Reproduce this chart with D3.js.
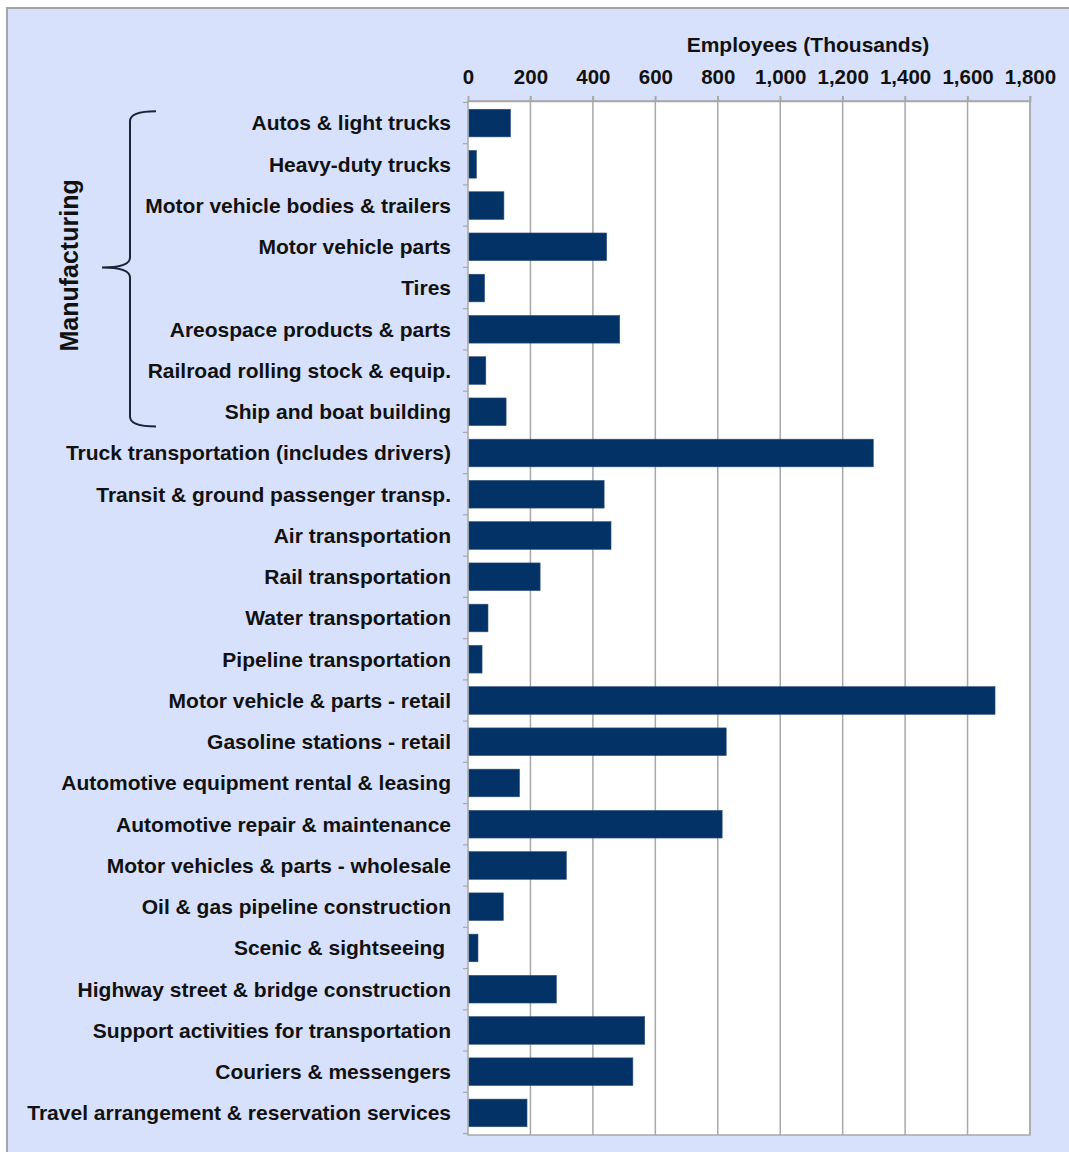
<!DOCTYPE html>
<html>
<head>
<meta charset="utf-8">
<script src="https://cdn.jsdelivr.net/npm/d3@7"></script>
<style>
  html, body { margin: 0; padding: 0; background: #ffffff; }
  svg { display: block; font-family: "Liberation Sans", Arial, sans-serif; }
</style>
</head>
<body>
<svg id="chart" width="1069" height="1152"></svg>
<script>
const categories = [
  "Autos & light trucks",
  "Heavy-duty trucks",
  "Motor vehicle bodies & trailers",
  "Motor vehicle parts",
  "Tires",
  "Areospace products & parts",
  "Railroad rolling stock & equip.",
  "Ship and boat building",
  "Truck transportation (includes drivers)",
  "Transit & ground passenger transp.",
  "Air transportation",
  "Rail transportation",
  "Water transportation",
  "Pipeline transportation",
  "Motor vehicle & parts - retail",
  "Gasoline stations - retail",
  "Automotive equipment rental & leasing",
  "Automotive repair & maintenance",
  "Motor vehicles & parts - wholesale",
  "Oil & gas pipeline construction",
  "Scenic & sightseeing ",
  "Highway street & bridge construction",
  "Support activities for transportation",
  "Couriers & messengers",
  "Travel arrangement & reservation services"
];
const employees = [
  136, 27, 115, 444, 53, 486, 57, 122,
  1298, 436, 458, 231, 64, 45,
  1688, 827, 165, 814, 315, 113, 32, 283, 566, 528, 189
];
const tickValues = [0, 200, 400, 600, 800, 1000, 1200, 1400, 1600, 1800];
const axisTitle = "Employees (Thousands)";
const groupLabel = "Manufacturing";
const groupCategories = categories.slice(0, 8);

const svg = d3.select("#chart");
const W = 1069, H = 1152;
const plot = { left: 468, right: 1030, top: 101, bottom: 1135 };

// outer frame
svg.append("rect").attr("x", 7).attr("y", 8).attr("width", W + 10).attr("height", H + 10)
  .attr("fill", "#d8e1fb").attr("stroke", "#a3a6a8").attr("stroke-width", 2);

const x = d3.scaleLinear().domain([0, 1800]).range([plot.left, plot.right]);
const y = d3.scaleBand().domain(categories).range([plot.top, plot.bottom]).paddingInner(0.33).paddingOuter(0.2);

// plot area
svg.append("rect").attr("x", plot.left).attr("y", plot.top)
  .attr("width", plot.right - plot.left).attr("height", plot.bottom - plot.top)
  .attr("fill", "#ffffff").attr("stroke", "#a8a8a8").attr("stroke-width", 1.5);

// gridlines
svg.append("g").selectAll("line").data(tickValues.slice(1)).join("line")
  .attr("x1", d => x(d)).attr("x2", d => x(d))
  .attr("y1", plot.top - 5).attr("y2", plot.bottom)
  .attr("stroke", "#a8a8a8").attr("stroke-width", 1.5);

// top axis
const xAxis = d3.axisTop(x).tickValues(tickValues).tickSize(5).tickPadding(12)
  .tickFormat(d3.format(","));
const gx = svg.append("g").attr("transform", `translate(0,${plot.top})`).call(xAxis);
gx.select(".domain").attr("stroke", "#a8a8a8").attr("stroke-width", 1.5);
gx.selectAll(".tick line").attr("stroke", "#a8a8a8").attr("stroke-width", 1.5);
gx.selectAll(".tick text").attr("fill", "#111").attr("font-size", 20.5).attr("font-weight", "bold")
  .attr("font-family", "Liberation Sans, Arial, sans-serif");

// left ticks at category boundaries
const step = y.step();
const offset = y(categories[0]) - y.paddingInner() * step / 2;
const boundaries = d3.range(categories.length + 1).map(i => offset + i * step);
svg.append("g").selectAll("line").data(boundaries).join("line")
  .attr("x1", plot.left - 5).attr("x2", plot.left)
  .attr("y1", d => d).attr("y2", d => d)
  .attr("stroke", "#a8a8a8").attr("stroke-width", 1.2);

// bars
svg.append("g").selectAll("rect").data(categories).join("rect")
  .attr("x", x(0) + 1)
  .attr("y", d => y(d))
  .attr("width", (d, i) => x(employees[i]) - x(0) - 1)
  .attr("height", y.bandwidth())
  .attr("fill", "#023266")
  .attr("stroke", "#30507c").attr("stroke-width", 0.6);

// category labels
svg.append("g").selectAll("text").data(categories).join("text")
  .attr("x", 451)
  .attr("y", d => y(d) + y.bandwidth() / 2)
  .attr("dy", "0.35em")
  .attr("text-anchor", "end")
  .attr("font-size", 21).attr("font-weight", "bold").attr("fill", "#111")
  .style("white-space", "pre")
  .text(d => d);

// axis title
svg.append("text").attr("x", 808).attr("y", 52)
  .attr("text-anchor", "middle").attr("font-size", 21).attr("font-weight", "bold").attr("fill", "#111")
  .text(axisTitle);

// bracket for manufacturing group
const gTop = y(groupCategories[0]) + 2;
const gBot = y(groupCategories[groupCategories.length - 1]) + y.bandwidth() + 1;
const gMid = boundaries[4];
const bx = 130, armR = 156, tipX = 102, r = 10;
const bracket = d3.path();
bracket.moveTo(armR, gTop);
bracket.quadraticCurveTo(bx, gTop, bx, gTop + r);
bracket.lineTo(bx, gMid - r);
bracket.quadraticCurveTo(bx, gMid, tipX, gMid);
bracket.quadraticCurveTo(bx, gMid, bx, gMid + r);
bracket.lineTo(bx, gBot - r);
bracket.quadraticCurveTo(bx, gBot, armR, gBot);
svg.append("path").attr("d", bracket.toString()).attr("fill", "none")
  .attr("stroke", "#1b2433").attr("stroke-width", 2);

svg.append("text")
  .attr("transform", `translate(78,${gMid - 2}) rotate(-90)`)
  .attr("text-anchor", "middle")
  .attr("font-size", 25).attr("font-weight", "bold").attr("fill", "#111")
  .text(groupLabel);
</script>
</body>
</html>
